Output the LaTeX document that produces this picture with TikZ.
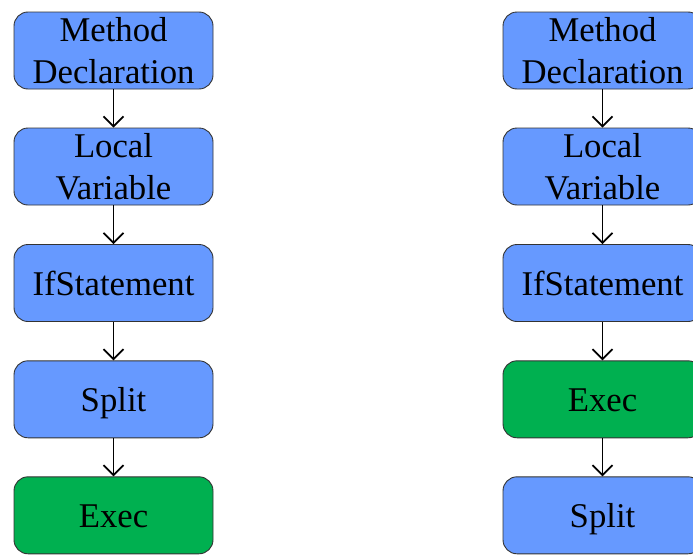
\documentclass[tikz,border=0pt]{standalone}
\usepackage{fontspec}
\setmainfont{Liberation Serif}
\usetikzlibrary{arrows.meta}
\definecolor{boxblue}{HTML}{6699FF}
\definecolor{boxgreen}{HTML}{00B050}
\definecolor{boxline}{HTML}{333333}
\tikzset{
  x=1pt, y=1pt,
  stepbox/.style={draw=boxline, line width=0.9pt, rounded corners=14pt,
    minimum width=199pt, minimum height=77pt, inner sep=0pt, align=center,
    font=\fontsize{34.7}{42}\selectfont, text height=24pt, text depth=0pt},
  twoline/.style={text height=65pt, text depth=0pt},
  bluebox/.style={stepbox, fill=boxblue},
  greenbox/.style={stepbox, fill=boxgreen},
  flow/.style={draw=black, line width=1.9pt, -{Straight Barb[length=10pt,width=20pt,line width=1.7pt]}}
}
\begin{document}
\begin{tikzpicture}
\useasboundingbox (0,0) rectangle (693,-554);
% left column
\node[bluebox, twoline] (l1) at (113.5,-50.5) {Method\\Declaration};
\node[bluebox, twoline] (l2) at (113.5,-166.5) {Local\\Variable};
\node[bluebox] (l3) at (113.5,-283) {IfStatement};
\node[bluebox] (l4) at (113.5,-399.3) {Split};
\node[greenbox] (l5) at (113.5,-515.3) {Exec};
% right column
\node[bluebox, twoline] (r1) at (602.5,-50.5) {Method\\Declaration};
\node[bluebox, twoline] (r2) at (602.5,-166.5) {Local\\Variable};
\node[bluebox] (r3) at (602.5,-283) {IfStatement};
\node[greenbox] (r4) at (602.5,-399.3) {Exec};
\node[bluebox] (r5) at (602.5,-515.3) {Split};
\foreach \a/\b in {l1/l2,l2/l3,l3/l4,l4/l5,r1/r2,r2/r3,r3/r4,r4/r5}
  \draw[flow] (\a.south) -- (\b.north);
\end{tikzpicture}
\end{document}
